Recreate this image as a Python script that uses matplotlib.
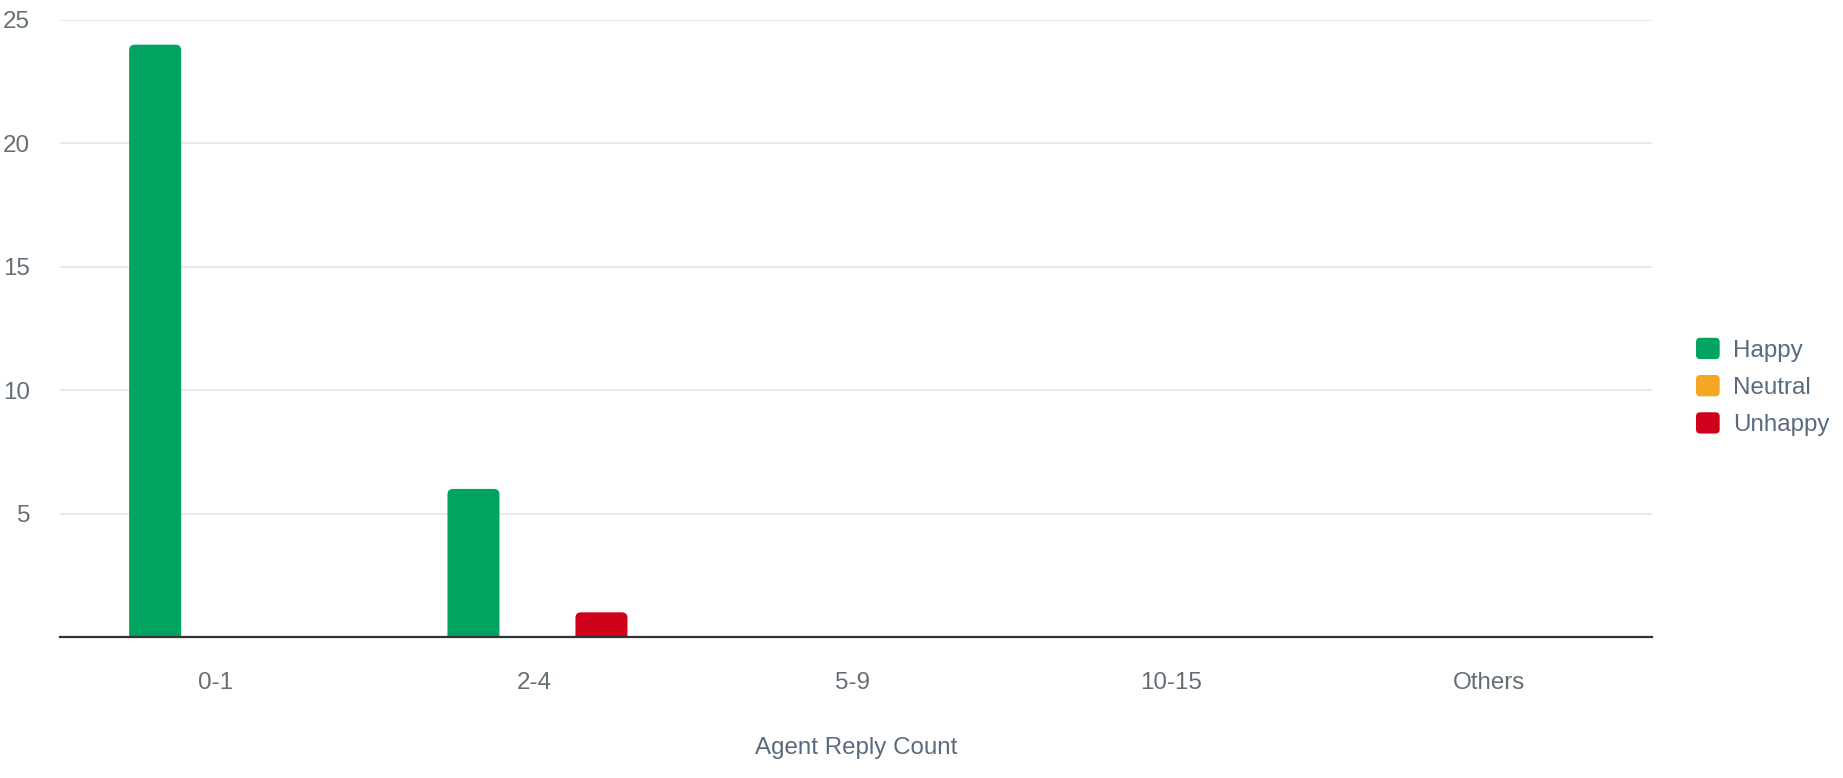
import matplotlib
matplotlib.use("Agg")
import matplotlib.pyplot as plt
from matplotlib.patches import FancyBboxPatch
from matplotlib.legend_handler import HandlerPatch, update_from_first_child
from matplotlib.container import BarContainer
import numpy as np

# data
categories = ["0-1", "2-4", "5-9", "10-15", "Others"]
series_names = ["Happy", "Neutral", "Unhappy"]
happy = [24, 6, 0, 0, 0]
neutral = [0, 0, 0, 0, 0]
unhappy = [0, 1, 0, 0, 0]
y_ticks = [5, 10, 15, 20, 25]

colors = ["#00A35F", "#F5A623", "#D0021B"]
tick_color = "#646E75"
label_color = "#566B7E"
FS = 17.4

plt.rcParams["font.family"] = ["Liberation Sans", "DejaVu Sans"]

W, H = 1843, 778
fig = plt.figure(figsize=(W / 100, H / 100), dpi=100)
ax = fig.add_axes([60 / W, 1 - 637 / H, (1651.5 - 60) / W, (637 - 20) / H])

x = np.arange(len(categories))
slot = 64 / 318.3
bar_w = 52 / 318.3

# rounded top corners: radius in pixels, converted to data units on each axis
radius_px = 5.5
px_x = len(categories) / 1591.5
px_y = 25 / 617
r_x = radius_px * px_x
aspect = px_y / px_x

handles = []
for i, (name, vals) in enumerate(zip(series_names, [happy, neutral, unhappy])):
    bars = ax.bar(x + (i - 1) * slot, vals, width=bar_w, color=colors[i], label=name)
    handles.append(bars)
    for rect in bars:
        h = rect.get_height()
        rect.set_visible(False)
        if h <= 0:
            continue
        extra = radius_px * px_y
        patch = FancyBboxPatch((rect.get_x(), -extra), rect.get_width(), h + extra,
                               boxstyle=f"round,pad=0,rounding_size={r_x}",
                               mutation_aspect=aspect, facecolor=colors[i],
                               edgecolor="none", zorder=3)
        ax.add_patch(patch)

ax.set_xlim(-0.5, len(categories) - 0.5)
ax.set_ylim(0, 25)
ax.set_yticks(y_ticks)
ax.set_xticks(x - 0.01)
ax.set_xticklabels(categories)

ax.grid(axis="y", color="#E6EAEE", linewidth=1.5, zorder=0)
ax.set_axisbelow(True)
for side in ["top", "right", "left"]:
    ax.spines[side].set_visible(False)
ax.spines["bottom"].set_color("#333333")
ax.spines["bottom"].set_linewidth(1.6)
ax.spines["bottom"].set_zorder(4)

ax.tick_params(axis="y", length=0, pad=21.5, labelsize=FS, labelcolor=tick_color)
ax.tick_params(axis="x", length=0, pad=25.5, labelsize=FS, labelcolor=tick_color)

ax.set_xlabel("Agent Reply Count", fontsize=FS, color=label_color)
ax.xaxis.set_label_coords(0.5, (637 - 748) / 617)
ax.xaxis.label.set_va("center")


def rounded_square(legend, orig_handle, xdescent, ydescent, width, height, fontsize):
    return FancyBboxPatch((-xdescent, -ydescent), width, height,
                          boxstyle="round,pad=0,rounding_size=3")


leg = fig.legend(handles=handles, labels=series_names, loc="center left",
                 bbox_to_anchor=(1696 / W, 1 - 387 / H), frameon=False,
                 fontsize=FS, handlelength=0.98, handleheight=0.98,
                 handletextpad=0.57, labelspacing=0.55, borderpad=0, borderaxespad=0,
                 handler_map={BarContainer: HandlerPatch(patch_func=rounded_square,
                                                         update_func=update_from_first_child)})
for t in leg.get_texts():
    t.set_color(label_color)
for p in leg.get_patches():
    p.set_visible(True)

fig.savefig("out.png", dpi=100)
